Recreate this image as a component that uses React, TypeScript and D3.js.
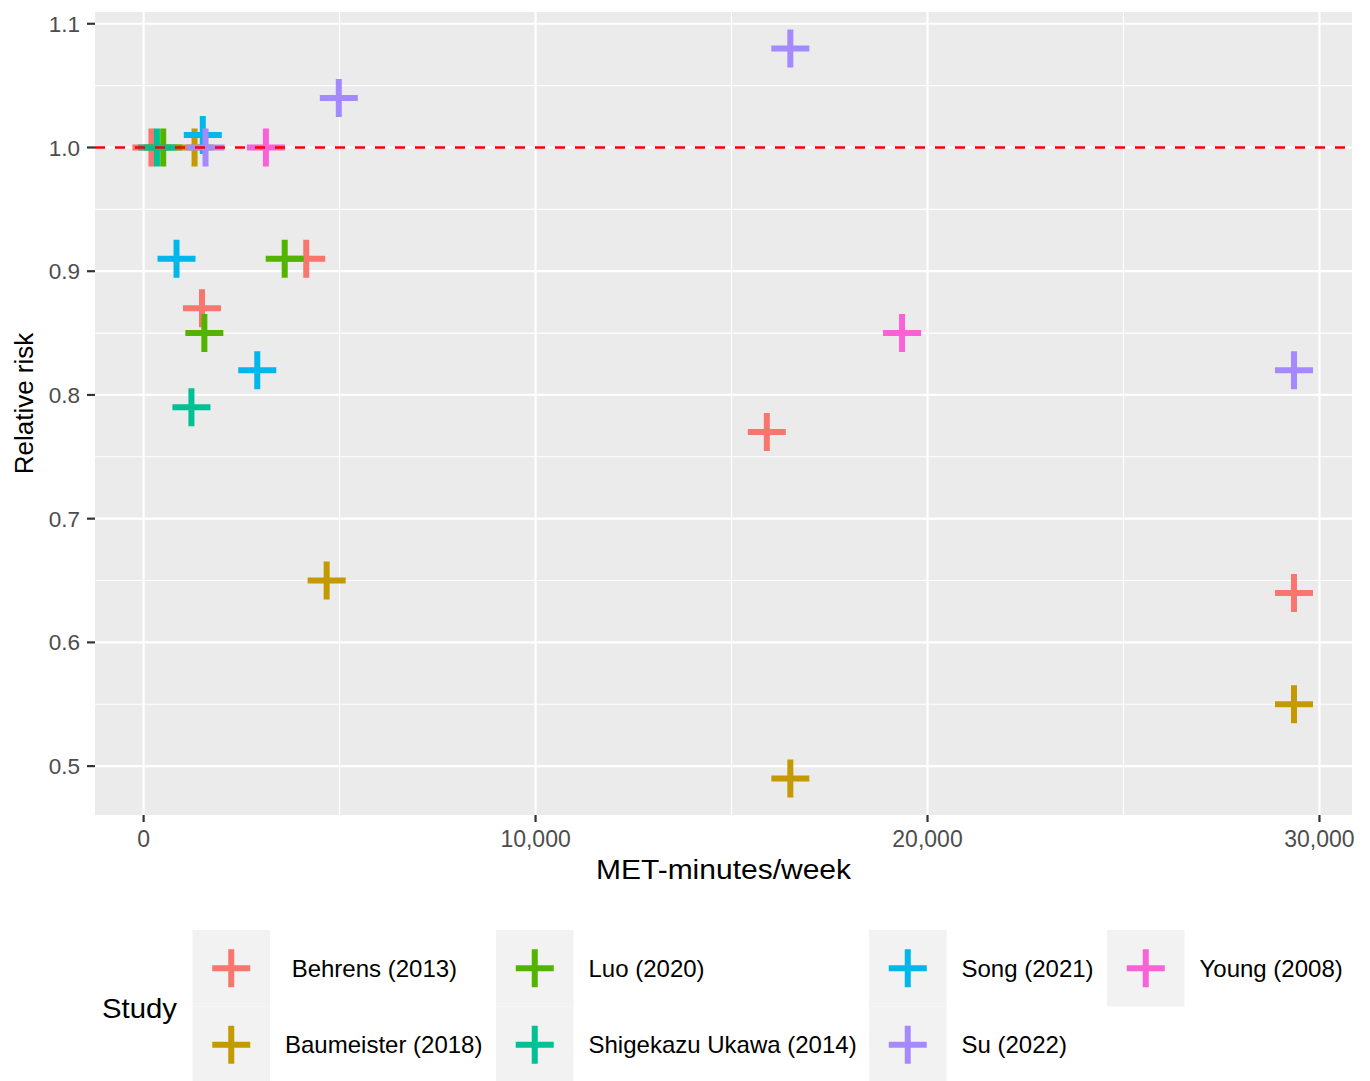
import * as d3 from "d3";

// study order as in the legend (column-major)
const studies = [
  " Behrens (2013)",
  "Baumeister (2018)",
  "Luo (2020)",
  "Shigekazu Ukawa (2014)",
  "Song (2021)",
  "Su (2022)",
  "Young (2008)",
];
const colors = ["#F8766D", "#C49A00", "#53B400", "#00C094", "#00B6EB", "#A58AFF", "#FB61D7"];

// MET-minutes/week and relative risk per study
const behrensX = [200, 1490, 4150, 15900, 29350];
const behrensY = [1.0, 0.87, 0.91, 0.77, 0.64];
const baumeisterX = [1300, 4670, 16500, 29350];
const baumeisterY = [1.0, 0.65, 0.49, 0.55];
const luoX = [500, 1550, 3600];
const luoY = [1.0, 0.85, 0.91];
const ukawaX = [340, 1220];
const ukawaY = [1.0, 0.79];
const songX = [1510, 840, 2900];
const songY = [1.01, 0.91, 0.82];
const suX = [1580, 4980, 16500, 29350];
const suY = [1.0, 1.04, 1.08, 0.82];
const youngX = [3120, 19350];
const youngY = [1.0, 0.85];

const xTicks = [0, 10000, 20000, 30000];
const xMinor = [5000, 15000, 25000];
const yTicks = [0.5, 0.6, 0.7, 0.8, 0.9, 1.0, 1.1];
const yMinor = [0.55, 0.65, 0.75, 0.85, 0.95, 1.05];
const refLine = 1.0;

const seriesX = [behrensX, baumeisterX, luoX, ukawaX, songX, suX, youngX];
const seriesY = [behrensY, baumeisterY, luoY, ukawaY, songY, suY, youngY];

const points = studies.flatMap((s, i) =>
  seriesX[i].map((x, j) => ({ study: s, x, y: seriesY[i][j] }))
);

const W = 1370;
const H = 1081;
const panel = { left: 95, right: 1352, top: 12, bottom: 815 };
const font = "'Liberation Sans', Arial, sans-serif";

export default function App() {
  const x = d3.scaleLinear([-1240, 30830], [panel.left, panel.right]);
  const y = d3.scaleLinear([0.4605, 1.1095], [panel.bottom, panel.top]);
  const color = d3.scaleOrdinal<string, string>(studies, colors);
  const fmt = d3.format(",");

  const cross = (cx: number, cy: number, r: number) =>
    `M${cx - r},${cy}H${cx + r}M${cx},${cy - r}V${cy + r}`;

  const legendCols = [192.5, 496, 869, 1107];
  const legendTop = 930;
  const keyW = 77.5;
  const rowH = 76.5;

  return (
    <svg
      width={W}
      height={H}
      style={{ position: "absolute", left: 0, top: 0, background: "#fff" }}
      fontFamily={font}
    >
      <rect
        x={panel.left}
        y={panel.top}
        width={panel.right - panel.left}
        height={panel.bottom - panel.top}
        fill="#EBEBEB"
      />
      {xMinor.map((t) => (
        <line key={"xm" + t} x1={x(t)} x2={x(t)} y1={panel.top} y2={panel.bottom} stroke="#fff" strokeWidth={1.1} />
      ))}
      {yMinor.map((t) => (
        <line key={"ym" + t} y1={y(t)} y2={y(t)} x1={panel.left} x2={panel.right} stroke="#fff" strokeWidth={1.1} />
      ))}
      {xTicks.map((t) => (
        <line key={"xg" + t} x1={x(t)} x2={x(t)} y1={panel.top} y2={panel.bottom} stroke="#fff" strokeWidth={2.2} />
      ))}
      {yTicks.map((t) => (
        <line key={"yg" + t} y1={y(t)} y2={y(t)} x1={panel.left} x2={panel.right} stroke="#fff" strokeWidth={2.2} />
      ))}

      {points.map((p, i) => (
        <path
          key={i}
          d={cross(x(p.x), y(p.y), 19)}
          stroke={color(p.study)}
          strokeWidth={6}
          fill="none"
        />
      ))}

      <line
        x1={panel.left}
        x2={panel.right}
        y1={y(refLine)}
        y2={y(refLine)}
        stroke="#FF0000"
        strokeWidth={2.6}
        strokeDasharray="10,10"
      />

      {/* x axis */}
      {xTicks.map((t) => (
        <g key={"xt" + t}>
          <line x1={x(t)} x2={x(t)} y1={panel.bottom} y2={panel.bottom + 7} stroke="#333" strokeWidth={2.2} />
          <text x={x(t)} y={846.5} textAnchor="middle" fontSize={23} fill="#4D4D4D">
            {fmt(t)}
          </text>
        </g>
      ))}
      <text
        x={(panel.left + panel.right) / 2}
        y={879}
        textAnchor="middle"
        fontSize={27.5}
        fill="#000"
        textLength={255}
        lengthAdjust="spacingAndGlyphs"
      >
        MET-minutes/week
      </text>

      {/* y axis */}
      {yTicks.map((t) => (
        <g key={"yt" + t}>
          <line x1={panel.left - 8} x2={panel.left} y1={y(t)} y2={y(t)} stroke="#333" strokeWidth={2.2} />
          <text x={80} y={y(t)} dy="0.36em" textAnchor="end" fontSize={22.5} fill="#4D4D4D">
            {t.toFixed(1)}
          </text>
        </g>
      ))}
      <text
        transform={`translate(33,${(panel.top + panel.bottom) / 2 - 10}) rotate(-90)`}
        textAnchor="middle"
        fontSize={26}
        fill="#000"
      >
        Relative risk
      </text>

      {/* legend */}
      <text
        x={102}
        y={1008}
        dy="0.36em"
        fontSize={28}
        fill="#000"
        textLength={75}
        lengthAdjust="spacingAndGlyphs"
      >
        Study
      </text>
      {studies.map((s, i) => {
        const col = Math.floor(i / 2);
        const row = i % 2;
        const kx = legendCols[col];
        const ky = legendTop + row * rowH;
        return (
          <g key={s}>
            <rect x={kx} y={ky} width={keyW} height={rowH} fill="#F2F2F2" />
            <path
              d={cross(kx + keyW / 2, ky + rowH / 2, 19)}
              stroke={color(s)}
              strokeWidth={6}
              fill="none"
            />
            <text
              x={kx + 92.5}
              y={ky + rowH / 2}
              dy="0.36em"
              fontSize={24}
              fill="#000"
              xmlSpace="preserve"
            >
              {s}
            </text>
          </g>
        );
      })}
    </svg>
  );
}
